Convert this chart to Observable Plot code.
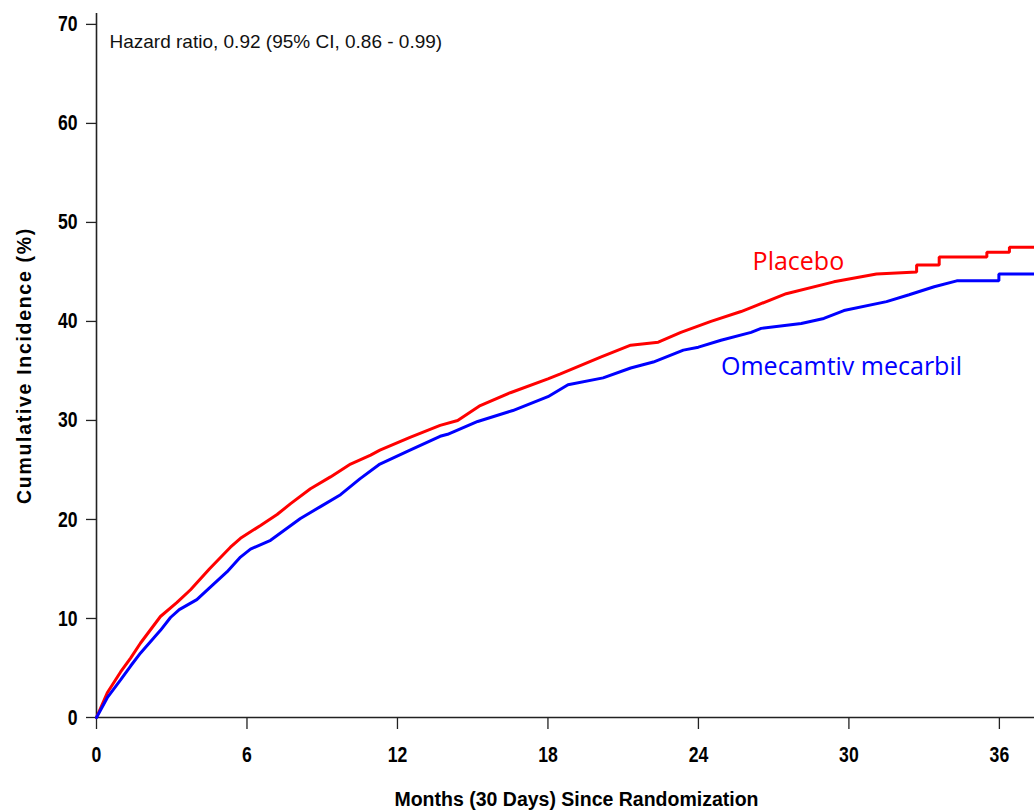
<!DOCTYPE html>
<html>
<head>
<meta charset="utf-8">
<script src="https://cdn.jsdelivr.net/npm/d3@7"></script>
<script src="https://cdn.jsdelivr.net/npm/@observablehq/plot@0.6"></script>
<style>
  html, body { margin: 0; padding: 0; background: #fff; }
  #chart svg { display: block; }
</style>
</head>
<body>
<div id="chart"></div>
<script>
// Placebo cumulative incidence (months, %)
const placeboMonths = [0, 0.43, 0.96, 1.36, 1.75, 2.55, 3.2, 3.75, 4.5, 5.34, 5.74, 6.54, 7.2, 7.74, 8.53, 9.33, 10.13, 10.93, 11.3, 12.5, 13.7, 14.4, 15.3, 16.5, 18.0, 18.5, 20.1, 21.3, 22.4, 23.3, 24.5, 25.7, 26.3, 27.5, 29.4, 31.1, 32.7, 32.7, 33.6, 33.6, 35.5, 35.5, 36.4, 36.4, 37.4];
const placeboPct    = [0, 2.5, 4.6, 6.0, 7.5, 10.2, 11.6, 12.9, 15.0, 17.2, 18.1, 19.4, 20.5, 21.6, 23.1, 24.3, 25.6, 26.5, 27.0, 28.3, 29.5, 30.0, 31.5, 32.8, 34.2, 34.7, 36.4, 37.6, 37.9, 38.9, 40.0, 41.0, 41.6, 42.8, 44.0, 44.8, 45.0, 45.7, 45.7, 46.5, 46.5, 47.0, 47.0, 47.5, 47.5];

// Omecamtiv mecarbil cumulative incidence (months, %)
const omecamtivMonths = [0, 0.43, 0.96, 1.36, 1.75, 2.55, 2.95, 3.3, 4.0, 4.55, 5.2, 5.74, 6.14, 6.94, 8.13, 8.93, 9.73, 10.5, 11.3, 12.5, 13.7, 14.0, 15.2, 16.6, 18.0, 18.8, 20.2, 21.3, 22.2, 23.4, 24.0, 24.9, 26.1, 26.5, 28.1, 29.0, 29.8, 31.5, 32.4, 33.4, 34.3, 35.98, 35.98, 37.4];
const omecamtivPct    = [0, 2.0, 3.8, 5.2, 6.5, 8.8, 10.1, 10.9, 11.9, 13.2, 14.7, 16.2, 17.0, 17.9, 20.1, 21.3, 22.5, 24.1, 25.6, 27.0, 28.4, 28.6, 29.9, 31.0, 32.4, 33.6, 34.3, 35.3, 35.9, 37.1, 37.4, 38.1, 38.9, 39.3, 39.8, 40.3, 41.1, 42.0, 42.7, 43.5, 44.1, 44.1, 44.8, 44.8];

const xTicks = [0, 6, 12, 18, 24, 30, 36];
const yTicks = [0, 10, 20, 30, 40, 50, 60, 70];

const seriesNames = ["Placebo", "Omecamtiv mecarbil"];
const seriesColors = ["#ff0000", "#0000ff"];
const hazardText = "Hazard ratio, 0.92 (95% CI, 0.86 - 0.99)";
const xTitle = "Months (30 Days) Since Randomization";
const yTitle = "Cumulative Incidence (%)";

const rows = [
  ...placeboMonths.map((m, i) => ({series: seriesNames[0], month: m, pct: placeboPct[i]})),
  ...omecamtivMonths.map((m, i) => ({series: seriesNames[1], month: m, pct: omecamtivPct[i]}))
];

const sans = "'Liberation Sans', Arial, sans-serif";
const labelFont = "'Open Sans', 'Noto Sans', sans-serif";

const chart = Plot.plot({
  width: 1034,
  height: 811,
  marginLeft: 96,
  marginRight: 0,
  marginTop: 13,
  marginBottom: 94,
  style: {background: "#fff", overflow: "visible"},
  x: {domain: [0, 37.4]},
  y: {domain: [0, 71.1]},
  color: {domain: seriesNames, range: seriesColors},
  marks: [
    Plot.axisX({
      ticks: xTicks, tickSize: 12, tickPadding: 17, tickFormat: d => d,
      fontSize: 22, fontWeight: "bold", fontFamily: sans,
      stroke: "#222", strokeWidth: 1.3, fill: "#000", label: null
    }),
    Plot.axisY({
      ticks: yTicks, tickSize: 10, tickPadding: 9, tickFormat: d => d,
      fontSize: 22, fontWeight: "bold", fontFamily: sans,
      stroke: "#222", strokeWidth: 1.3, fill: "#000", label: null
    }),
    Plot.ruleY([0], {stroke: "#222", strokeWidth: 1.6}),
    Plot.ruleX([0], {stroke: "#222", strokeWidth: 1.6}),
    Plot.line(rows, {
      x: "month", y: "pct", z: "series", stroke: "series",
      strokeWidth: 3, curve: "linear", strokeLinejoin: "miter"
    }),
    Plot.text([hazardText], {
      frameAnchor: "top-left", text: d => d, dx: 13, dy: 34,
      lineAnchor: "bottom", textAnchor: "start",
      fontSize: 19, fontFamily: sans, fill: "#111"
    }),
    Plot.text([seriesNames[0]], {
      x: 26.16, y: 45.2, text: d => d, textAnchor: "start", lineAnchor: "bottom",
      fill: seriesColors[0], fontSize: 25, fontFamily: labelFont
    }),
    Plot.text([seriesNames[1]], {
      x: 24.9, y: 34.6, text: d => d, textAnchor: "start", lineAnchor: "bottom",
      fill: seriesColors[1], fontSize: 25, fontFamily: labelFont
    }),
    Plot.text([xTitle], {
      frameAnchor: "bottom", text: d => d, dx: 11, dy: 88, lineAnchor: "bottom", textAnchor: "middle",
      fontSize: 19.5, fontWeight: "bold", fontFamily: sans, fill: "#000"
    }),
    Plot.text([yTitle], {
      frameAnchor: "left", text: d => d, rotate: -90, dx: -72, dy: 0,
      textAnchor: "middle", lineAnchor: "middle",
      fontSize: 19.5, fontWeight: "bold", fontFamily: sans, fill: "#000"
    })
  ]
});

// Narrow the tick-label digits, like the condensed face of the original.
d3.select(chart).selectAll('g[aria-label$="tick label"] text').each(function() {
  const t = d3.select(this);
  const tr = t.attr("transform");
  if (tr) {
    t.attr("transform", tr + " scale(0.8,1)");
  } else {
    const x = +t.attr("x") || 0, y = +t.attr("y") || 0;
    t.attr("x", null).attr("y", null).attr("transform", `translate(${x},${y}) scale(0.8,1)`);
  }
});
// letter spacing for the y title
d3.select(chart).selectAll("text").filter(function() { return this.textContent === yTitle; })
  .style("letter-spacing", "1.7px");

document.getElementById("chart").appendChild(chart);
</script>
</body>
</html>
